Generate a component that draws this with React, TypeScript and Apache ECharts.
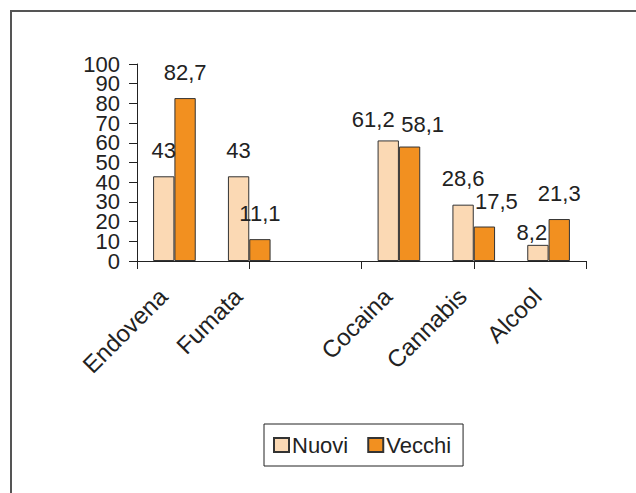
import React, { useEffect, useRef } from "react";
import * as echarts from "echarts";

const categories = ["Endovena", "Fumata", "", "Cocaina", "Cannabis", "Alcool"];
const nuovi: (number | null)[] = [43, 43, null, 61.2, 28.6, 8.2];
const vecchi: (number | null)[] = [82.7, 11.1, null, 58.1, 17.5, 21.3];
const seriesNames = ["Nuovi", "Vecchi"];
const tickSlots = categories.flatMap((c, i) => [c + "a" + i, c + "b" + i]);

const FONT = "Liberation Sans, Arial, sans-serif";
const FS = 22;

export default function App() {
  const ref = useRef<HTMLDivElement>(null);
  useEffect(() => {
    if (!ref.current) return;
    const chart = echarts.init(ref.current, null, { renderer: "svg" });
    const fmt = (p: any) =>
      p.value == null ? "" : String(p.value).replace(".", ",");
    // label nudges (px) to mimic the original placement that avoids overlaps
    const nudgeNuovi = [[0, 0], [0, 0], [0, 0], [-15, 5], [0, 0], [-6, 14]];
    const nudgeVecchi = [[0, 0], [0, 0], [0, 0], [13, 4], [12, 1], [0, 0]];
    const build = (vals: (number | null)[], nudges: number[][]) =>
      vals.map((v, i) => ({ value: v, label: { offset: nudges[i] } }));
    const labelBase = {
      show: true,
      position: "top",
      distance: 15,
      fontSize: FS,
      color: "#222",
      fontFamily: FONT,
      formatter: fmt,
    };
    const yLabel = (keep: (v: number) => boolean) => ({
      fontSize: FS,
      lineHeight: 18,
      color: "#222",
      margin: 17,
      fontFamily: FONT,
      showMinLabel: true,
      showMaxLabel: true,
      hideOverlap: false,
      formatter: (v: number) => (keep(v) ? String(v) : ""),
    });
    chart.setOption({
      animation: false,
      backgroundColor: "#fff",
      textStyle: { fontFamily: FONT },
      graphic: [
        {
          type: "polyline",
          shape: { points: [[11, 500], [11, 11], [640, 11]] },
          style: { stroke: "#555", lineWidth: 2, fill: null },
          silent: true,
        },
      ],
      grid: { left: 137, right: 50, top: 64, bottom: 232 },
      legend: {
        data: seriesNames,
        left: 264,
        top: 424,
        orient: "horizontal",
        itemWidth: 15,
        itemHeight: 14,
        itemGap: 19,
        padding: [10, 12, 10, 9],
        borderColor: "#222",
        borderWidth: 1,
        icon: "rect",
        textStyle: {
          fontSize: FS,
          color: "#222",
          fontFamily: FONT,
          padding: [0, 0, 0, -2],
        },
      },
      xAxis: [
        {
          type: "category",
          data: categories,
          axisLine: { show: true, lineStyle: { color: "#222", width: 1 } },
          axisTick: { show: false },
          axisLabel: {
            rotate: 45,
            interval: 0,
            margin: 20,
            padding: [0, 16, 0, 0],
            fontSize: 24,
            color: "#222",
            fontFamily: FONT,
          },
        },
        {
          type: "category",
          data: tickSlots,
          position: "bottom",
          axisLine: { show: false },
          axisTick: { show: true, length: 8, lineStyle: { color: "#222" } },
          axisLabel: { show: false },
        },
      ],
      yAxis: [
        {
          type: "value",
          position: "left",
          min: 0,
          max: 100,
          interval: 10,
          splitLine: { show: false },
          axisLine: { show: true, lineStyle: { color: "#222", width: 1 } },
          axisTick: { show: true, length: 8, lineStyle: { color: "#222" } },
          axisLabel: yLabel((v) => v % 20 === 0),
        },
        {
          type: "value",
          position: "left",
          offset: 0,
          min: 0,
          max: 100,
          interval: 10,
          splitLine: { show: false },
          axisLine: { show: false },
          axisTick: { show: false },
          axisLabel: yLabel((v) => v % 20 === 10),
        },
      ],
      series: [
        {
          name: seriesNames[0],
          type: "bar",
          xAxisIndex: 0,
          yAxisIndex: 0,
          data: build(nuovi, nudgeNuovi),
          barGap: "0%",
          barCategoryGap: "43%",
          itemStyle: { color: "#FBD9B4", borderColor: "#333", borderWidth: 1 },
          label: labelBase,
        },
        {
          name: seriesNames[1],
          type: "bar",
          xAxisIndex: 0,
          yAxisIndex: 0,
          data: build(vecchi, nudgeVecchi),
          itemStyle: { color: "#F29020", borderColor: "#333", borderWidth: 1 },
          label: labelBase,
        },
      ],
    });
    return () => chart.dispose();
  }, []);
  return (
    <div
      ref={ref}
      style={{ position: "absolute", left: 0, top: 0, width: 636, height: 493 }}
    />
  );
}
